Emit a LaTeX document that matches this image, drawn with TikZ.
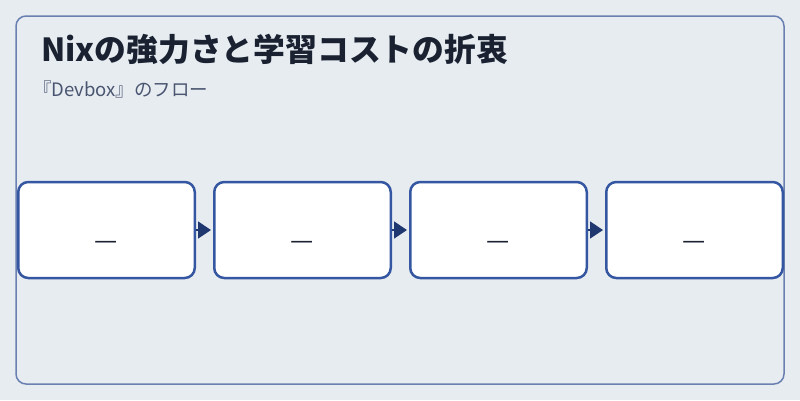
\documentclass[tikz,border=0pt]{standalone}
\usepackage{fontspec}
\setmainfont{Noto Sans CJK JP}
\usetikzlibrary{positioning}
\usetikzlibrary{arrows.meta}
\definecolor{bgcol}{HTML}{E7ECF1}
\definecolor{framecol}{HTML}{6A80B2}
\definecolor{titlecol}{HTML}{1A2232}
\definecolor{subcol}{HTML}{4A5570}
\definecolor{boxcol}{HTML}{3557A2}
\definecolor{arrowcol}{HTML}{1F3870}
\tikzset{
   stepbox/.style={draw=boxcol, fill=white, line width=2.5pt, rounded corners=10pt,
      minimum width=176.5pt, minimum height=96pt, inner sep=0pt,
      text height=39.5pt, text depth=0pt,
      text=titlecol, font=\fontsize{26}{28}\selectfont},
   flowarrow/.style={draw=arrowcol, line width=1.5pt, shorten >=2pt,
      -{Triangle[length=13pt,width=17pt]}}
}

\begin{document}
\begin{tikzpicture}[x=1pt,y=-1pt]
    \fill[bgcol] (0,0) rectangle (800,400);
    \useasboundingbox (0,0) rectangle (800,400);
    \draw[framecol, line width=1.5pt, rounded corners=10pt] (16,16) rectangle (784,384);
    \node[anchor=base west, inner sep=0pt, text=titlecol, font=\bfseries\fontsize{31.8}{34}\selectfont] (title) at (41,61) {Nixの強力さと学習コストの折衷};
    \node[anchor=base west, inner sep=0pt, text=subcol, font=\fontsize{18.5}{20}\selectfont] (sub) at (33,96) {『Devbox』のフロー};
    \node[stepbox] (s1) at (106.5,230) {—};
    \node[stepbox, right = 17pt of s1] (s2) {—};
    \node[stepbox, right = 17pt of s2] (s3) {—};
    \node[stepbox, right = 17pt of s3] (s4) {—};
    \draw[flowarrow] (s1.east) -- (s2.west);
    \draw[flowarrow] (s2.east) -- (s3.west);
    \draw[flowarrow] (s3.east) -- (s4.west);
\end{tikzpicture}
\end{document}
